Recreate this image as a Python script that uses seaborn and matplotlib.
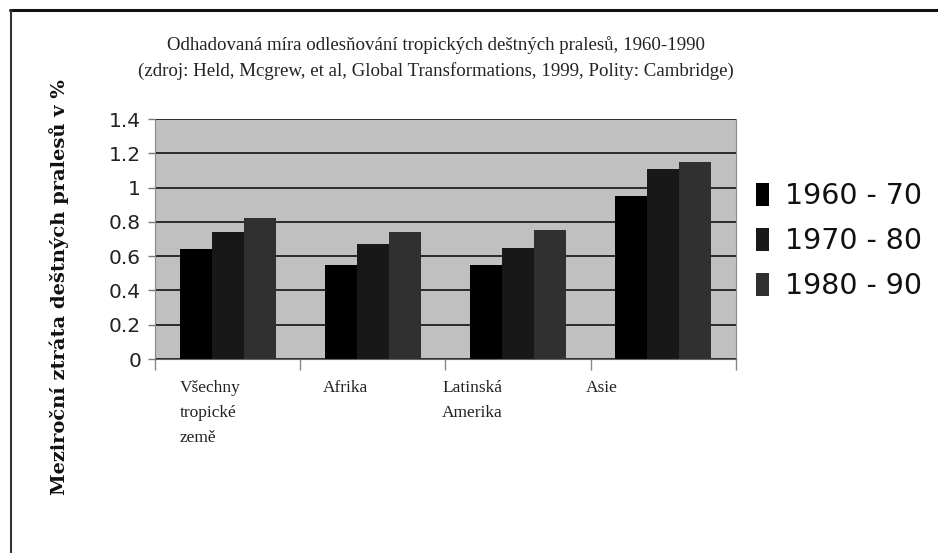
import matplotlib
matplotlib.use('Agg')
import matplotlib.pyplot as plt
import matplotlib.transforms as mtransforms
from matplotlib.lines import Line2D
import seaborn as sns
import pandas as pd

# data
regions = ['Všechny\ntropické\nzemě', 'Afrika', 'Latinská\nAmerika', 'Asie']
periods = ['1960 - 70', '1970 - 80', '1980 - 90']
loss_6070 = [0.64, 0.55, 0.55, 0.95]
loss_7080 = [0.74, 0.67, 0.65, 1.11]
loss_8090 = [0.82, 0.74, 0.75, 1.15]
yticks = [0, 0.2, 0.4, 0.6, 0.8, 1, 1.2, 1.4]
ytick_labels = ['0', '0.2', '0.4', '0.6', '0.8', '1', '1.2', '1.4']

df = pd.DataFrame({
    'region': regions * 3,
    'period': [periods[0]] * 4 + [periods[1]] * 4 + [periods[2]] * 4,
    'loss': loss_6070 + loss_7080 + loss_8090,
})

sns.set_style('white')
plt.rcParams['font.family'] = ['DejaVu Sans']

fig = plt.figure(figsize=(9.38, 5.53), dpi=100)
ax = fig.add_axes([0.1652, 0.3508, 0.6194, 0.434])

palette = ['#000000', '#181818', '#303030']
sns.barplot(data=df, x='region', y='loss', hue='period', palette=palette,
            width=0.66, gap=0, saturation=1, linewidth=0, edgecolor='none',
            ax=ax, legend=True)

ax.set_facecolor('#c0c0c0')
ax.set_ylim(0, 1.4)
ax.set_xlim(-0.5, 3.5)
ax.set_yticks(yticks)
ax.set_yticklabels(ytick_labels, fontsize=14.5, color='#222222')
ax.yaxis.grid(True, color='#2a2a2a', linewidth=1.4)
ax.set_axisbelow(True)
ax.tick_params(axis='y', direction='out', length=5, width=1, color='#777777', pad=5, left=True)

# x ticks at the category boundaries, labels as separate ticks
ax.set_xticks([-0.5, 0.5, 1.5, 2.5, 3.5], minor=True)
ax.tick_params(axis='x', which='minor', direction='out', length=8, width=1, color='#888888', bottom=True)
ax.tick_params(axis='x', which='major', length=0, pad=15)
ax.set_xticks(range(len(regions)))
ax.set_xticklabels(regions, family='Liberation Serif', fontsize=12.5, color='#222222',
                   ha='left', va='top', linespacing=1.75)
shifts = [-48, -50, -76, -78]
for lab, dx in zip(ax.get_xticklabels(), shifts):
    lab.set_transform(lab.get_transform() + mtransforms.ScaledTranslation(dx / 100, 0, fig.dpi_scale_trans))

for side in ['left', 'right']:
    ax.spines[side].set_color('#888888')
ax.spines['top'].set_visible(False)
ax.spines['bottom'].set_color('#666666')
ax.set_xlabel('')
ax.set_ylabel('')

leg = ax.legend(loc='center left', bbox_to_anchor=(1.035, 0.49), frameon=False,
                prop={'size': 20.5}, handlelength=0.45, handleheight=0.85,
                handletextpad=0.55, labelspacing=0.6, borderaxespad=0, borderpad=0)
for t in leg.get_texts():
    t.set_color('#111111')

fig.text(0.465, 0.895, 'Odhadovaná míra odlesňování tropických deštných pralesů, 1960-1990\n'
         '(zdroj: Held, Mcgrew, et al, Global Transformations, 1999, Polity: Cambridge)',
         ha='center', va='center', family='Liberation Serif', fontsize=13.6,
         color='#222222', linespacing=1.55)

fig.text(0.063, 0.481, 'Meziroční ztráta deštných pralesů v %', rotation=90,
         ha='center', va='center', family='DejaVu Serif', fontweight='bold',
         fontsize=14, color='#111111')

# frame lines at the top and left of the picture
fig.add_artist(Line2D([0.011, 1.0], [0.982, 0.982], color='#111111', linewidth=2.2))
fig.add_artist(Line2D([0.0117, 0.0117], [0.0, 0.982], color='#333333', linewidth=1.5))

fig.savefig('out.png', dpi=100)
plt.close(fig)
